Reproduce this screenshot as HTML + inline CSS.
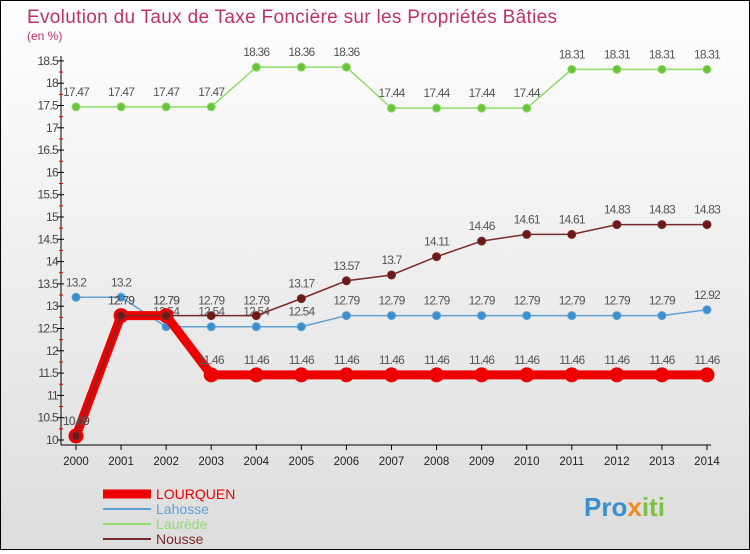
<!DOCTYPE html>
<html><head><meta charset="utf-8"><style>
body{margin:0;width:750px;height:550px;overflow:hidden;font-family:"Liberation Sans",sans-serif}
#wrap{position:relative;width:748px;height:548px;border:1px solid #000;background:linear-gradient(#fff,#ddd)}
</style></head><body>
<div id="wrap">
<svg id="c" width="748" height="548" xmlns="http://www.w3.org/2000/svg">
<text x="26" y="22" font-size="19" fill="#c0306a" textLength="530">Evolution du Taux de Taxe Foncière sur les Propriétés Bâties</text>
<text x="26" y="39" font-size="12" fill="#c0306a">(en %)</text>
<g id="axes"></g><g id="series"></g><g id="legend"></g>
<text x="583" y="515" font-size="26" font-weight="bold" fill="#3a8fd0">Pro<tspan fill="#f08a20">x</tspan><tspan fill="#7cc242">iti</tspan></text>
</svg>
</div>
<script>
const years=[2000,2001,2002,2003,2004,2005,2006,2007,2008,2009,2010,2011,2012,2013,2014];
const yTicks=[10,10.5,11,11.5,12,12.5,13,13.5,14,14.5,15,15.5,16,16.5,17,17.5,18,18.5];
const lourquen=[10.09,12.79,12.79,11.46,11.46,11.46,11.46,11.46,11.46,11.46,11.46,11.46,11.46,11.46,11.46];
const lahosse=[13.2,13.2,12.54,12.54,12.54,12.54,12.79,12.79,12.79,12.79,12.79,12.79,12.79,12.79,12.92];
const laurede=[17.47,17.47,17.47,17.47,18.36,18.36,18.36,17.44,17.44,17.44,17.44,18.31,18.31,18.31,18.31];
const nousse=[10.09,12.79,12.79,12.79,12.79,13.17,13.57,13.7,14.11,14.46,14.61,14.61,14.83,14.83,14.83];
const NS="http://www.w3.org/2000/svg";
const X=i=>75+i*45.07, Y=v=>439-(v-10)*44.6;
function mk(p,t,a){const e=document.createElementNS(NS,t);for(const k in a)e.setAttribute(k,a[k]);p.appendChild(e);return e;}
const ax=document.getElementById('axes');
let l=mk(ax,'line',{x1:60,y1:55,x2:60,y2:444,stroke:'#000'});


l=mk(ax,'line',{x1:60,y1:444,x2:710,y2:444,stroke:'#000'});


yTicks.forEach((v,i)=>{const y=Y(v);
 mk(ax,'line',{x1:56,y1:y,x2:63,y2:y,stroke:'#000'});
 if(i<yTicks.length-1)mk(ax,'line',{x1:58,y1:y-11.15,x2:62,y2:y-11.15,stroke:'#e00'});
 const t=mk(ax,'text',{x:57,y:y+4,'font-size':12,'text-anchor':'end',fill:'#444','letter-spacing':'-0.7'});t.textContent=v;
 
 });
years.forEach((yr,i)=>{const x=X(i);
 mk(ax,'line',{x1:x,y1:444,x2:x,y2:449,stroke:'#000'});
 const t=mk(ax,'text',{x:x,y:464,'font-size':11.5,'text-anchor':'middle',fill:'#222'});t.textContent=yr;
 
 });
const sg=document.getElementById('series');
function draw(data,col,w,r,name,dot){
 const g=mk(sg,'g',{});
 
 
 mk(g,'polyline',{points:data.map((v,i)=>X(i)+','+Y(v)).join(' '),fill:'none',stroke:col,'stroke-width':w});
 data.forEach((v,i)=>{const c=mk(g,'circle',{cx:X(i),cy:Y(v),r:r,fill:dot,stroke:col,'stroke-width':1});
  
  
  const t=mk(g,'text',{x:X(i),y:Y(v)-11,'font-size':12,'text-anchor':'middle',fill:'#555','letter-spacing':'-0.8'});t.textContent=v;
  
  });
}
draw(laurede,'#8fdc6a',1.5,4,'laurede','#6cc23a');
draw(lahosse,'#5fa0d0',1.5,4,'lahosse','#3a8fd0');
draw(lourquen,'#ee0000',9,7,'lourquen','#ee0000');
draw(nousse,'#7a2a2a',1.5,4,'nousse','#6a1a1a');
const lg=document.getElementById('legend');
[['LOURQUEN','#ee0000',9],['Lahosse','#5fa0d0',2],['Laurède','#8fdc6a',2],['Nousse','#7a2a2a',2]].forEach((d,i)=>{
 const y=493+i*15;
 const g=mk(lg,'g',{});
 
 
 mk(g,'line',{x1:102,y1:y,x2:150,y2:y,stroke:d[1],'stroke-width':d[2]});
 const t=mk(g,'text',{x:155,y:y+5,'font-size':14,fill:d[1]});t.textContent=d[0];});
</script>
</body></html>
